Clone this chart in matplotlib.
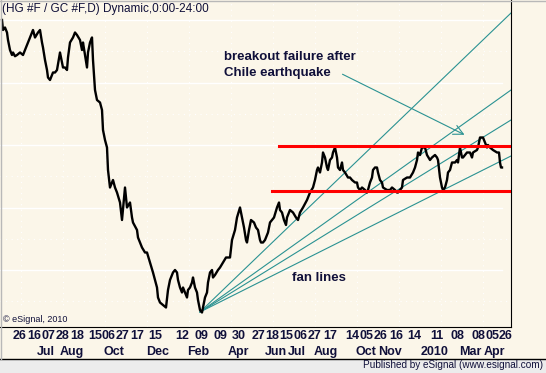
import matplotlib
matplotlib.use("Agg")
import matplotlib.pyplot as plt
from matplotlib.lines import Line2D
from matplotlib.patches import Rectangle

# HG/GC ratio (x1000), daily bars indexed from the first bar on the chart
bar = [2, 3, 5, 7, 8, 10, 12, 13, 15, 17, 20, 23, 25, 28, 30, 32, 33, 35, 38, 40,
       42, 43, 45, 47, 48, 50, 53, 55, 57, 60, 62, 63, 65, 67, 68, 70, 73, 75, 77, 80,
       82, 83, 85, 87, 88, 90, 92, 93, 95, 97, 100, 102, 103, 105, 107, 108, 110, 113, 115, 117,
       120, 122, 125, 127, 130, 132, 133, 135, 137, 138, 140, 142, 145, 147, 150, 153, 155, 157, 158, 160,
       163, 166, 168, 170, 173, 175, 177, 178, 180, 182, 183, 185, 187, 188, 190, 192, 193, 195, 197, 198,
       200, 202, 203, 205, 207, 208, 210, 212, 213, 215, 218, 220, 223, 226, 228, 230, 232, 235, 237, 240,
       242, 244, 246, 247, 249, 251, 254, 256, 258, 260, 261, 263, 265, 268, 270, 272, 274, 277, 279, 280,
       282, 284, 286, 287, 290, 293, 296, 298, 300, 303, 307, 310, 313, 315, 317, 318, 320, 322, 323, 325,
       327, 328, 330, 332, 333, 335, 337, 338, 340, 342, 343, 345, 348, 350, 352, 355, 357, 358, 360, 362,
       365, 367, 368, 370, 372, 373, 375, 377, 378, 380, 382, 383, 385, 387, 390, 392, 395, 397, 398, 400,
       402, 403, 407, 410, 413, 415, 417, 418, 420, 422, 425, 427, 430, 432, 435, 437, 438, 440, 442, 443,
       445, 447, 448, 450, 452, 453, 455, 457, 458, 460, 462, 463, 467, 470, 472, 473, 477, 478, 480, 482,
       483, 485, 487, 488, 490, 493, 497, 499, 500, 501, 502]
ratio = [4.00, 3.92, 3.94, 3.90, 3.84, 3.76, 3.72, 3.74, 3.71, 3.72, 3.74, 3.72, 3.76, 3.82, 3.86, 3.90, 3.92, 3.86, 3.90, 3.92,
         3.82, 3.78, 3.68, 3.60, 3.54, 3.52, 3.58, 3.58, 3.60, 3.74, 3.66, 3.62, 3.62, 3.60, 3.70, 3.82, 3.86, 3.90, 3.88, 3.84,
         3.76, 3.82, 3.72, 3.62, 3.74, 3.82, 3.86, 3.68, 3.44, 3.36, 3.34, 3.28, 3.12, 3.04, 2.98, 2.80, 2.66, 2.72, 2.66, 2.62,
         2.54, 2.40, 2.66, 2.50, 2.54, 2.42, 2.38, 2.35, 2.32, 2.26, 2.22, 2.18, 2.14, 2.14, 2.06, 1.98, 1.92, 1.86, 1.78, 1.74,
         1.72, 1.70, 1.84, 1.92, 1.98, 2.00, 1.98, 1.92, 1.86, 1.82, 1.86, 1.82, 1.78, 1.84, 1.86, 1.90, 1.94, 1.86, 1.82, 1.76,
         1.68, 1.66, 1.70, 1.78, 1.82, 1.90, 1.98, 2.00, 1.94, 1.96, 2.00, 2.02, 2.06, 2.10, 2.10, 2.10, 2.24, 2.32, 2.42, 2.50,
         2.42, 2.34, 2.24, 2.22, 2.32, 2.40, 2.38, 2.34, 2.32, 2.24, 2.22, 2.22, 2.24, 2.30, 2.38, 2.40, 2.42, 2.50, 2.54, 2.48,
         2.46, 2.40, 2.36, 2.42, 2.48, 2.46, 2.42, 2.40, 2.46, 2.50, 2.56, 2.62, 2.66, 2.72, 2.80, 2.82, 2.78, 2.86, 2.94, 2.90,
         2.82, 2.80, 2.88, 2.90, 2.94, 2.98, 2.90, 2.82, 2.80, 2.86, 2.80, 2.78, 2.74, 2.74, 2.72, 2.70, 2.70, 2.66, 2.64, 2.66,
         2.64, 2.62, 2.64, 2.70, 2.74, 2.80, 2.82, 2.82, 2.78, 2.72, 2.70, 2.66, 2.65, 2.64, 2.64, 2.66, 2.64, 2.62, 2.62, 2.64,
         2.66, 2.72, 2.74, 2.74, 2.78, 2.82, 2.88, 2.94, 2.92, 2.98, 2.98, 2.92, 2.88, 2.90, 2.92, 2.90, 2.88, 2.74, 2.66, 2.64,
         2.66, 2.72, 2.78, 2.80, 2.86, 2.86, 2.86, 2.88, 2.86, 2.98, 2.90, 2.90, 2.94, 2.94, 2.90, 2.94, 2.96, 2.98, 3.06, 3.06,
         3.06, 3.02, 2.98, 3.00, 2.98, 2.96, 2.94, 2.94, 2.86, 2.82, 2.82]

# horizontal support / resistance (start bar, level)
resist_start, resist_level = 279, 2.99
support_start, support_level = 272, 2.63

# fan lines from the Feb 2009 low to the right edge
fan_origin = (200, 1.664)
fan_end_bar = 511
fan_end = [4.056, 3.44, 3.20, 2.912]

day_pos = [20, 34, 48, 62, 77, 95, 109, 123, 137, 155, 182, 201, 220, 239, 258, 272,
           286, 300, 315, 330, 352, 367, 381, 396, 414, 437, 457, 478, 492, 506]
day_labels = ["26", "16", "07", "28", "18", "15", "06", "27", "17", "15", "12", "09", "09", "30", "27", "18",
              "15", "06", "27", "17", "14", "05", "26", "16", "14", "11", "08", "08", "05", "26"]
month_pos = [46, 72, 114, 158, 198, 238, 276, 297, 326, 366, 390, 435, 470, 494]
month_labels = ["Jul", "Aug", "Oct", "Dec", "Feb", "Apr", "Jun", "Jul", "Aug", "Oct", "Nov",
                "2010", "Mar", "Apr"]

bg = "#FBF6E9"
teal = "#2A9292"
ink = "#10103A"
W, H = 546, 373

fig = plt.figure(figsize=(W / 100, H / 100), dpi=100, facecolor=bg)
ax = fig.add_axes([0, 46 / H, 511 / W, 327 / H])
ax.set_facecolor(bg)
ax.set_xlim(0, 511)
ax.set_ylim(1.544, 4.16)

# grid: solid white major lines plus faint dotted ones
for lv in [4.0, 3.5, 3.0, 2.5, 2.0]:
    ax.axhline(lv, xmin=0, xmax=502 / 511, color="white", lw=1.0, zorder=0)
for lv in [3.75, 3.25, 2.75, 2.25, 1.75]:
    ax.axhline(lv, color="white", lw=0.8, ls=(0, (1, 4)), zorder=0)
for xv in range(21, 511, 42):
    ax.axvline(xv, color="white", lw=0.8, ls=(0, (1, 4)), zorder=0)

ax.plot(bar, ratio, color="black", lw=1.7, zorder=3)

ax.plot([resist_start, 511], [resist_level] * 2, color="#FF0000", lw=2.2, zorder=4)
ax.plot([support_start, 511], [support_level] * 2, color="#FF0000", lw=2.2, zorder=4)

for ye in fan_end:
    ax.plot([fan_origin[0], fan_end_bar], [fan_origin[1], ye], color=teal, lw=0.8, zorder=2)

ax.text(224, 3.704, "breakout failure after", fontsize=9.5, fontweight="bold",
        family="Liberation Sans", color=ink, va="center")
ax.text(224, 3.576, "Chile earthquake", fontsize=9.5, fontweight="bold",
        family="Liberation Sans", color=ink, va="center")
ax.annotate("", xy=(467, 3.072), xytext=(340, 3.576),
            arrowprops=dict(arrowstyle="->,head_length=0.7,head_width=0.35", color=teal, lw=0.8))
ax.text(292, 1.936, "fan lines", fontsize=9.5, fontweight="bold",
        family="Liberation Sans", color=ink, va="center")

ax.text(2 / 511, 1 - 9 / 327, "(HG #F / GC #F,D) Dynamic,0:00-24:00", transform=ax.transAxes,
        fontsize=8.5, family="Liberation Sans", color=ink, va="center")
ax.text(3 / 511, 7 / 327, "\u00a9 eSignal, 2010", transform=ax.transAxes,
        fontsize=6.5, family="Liberation Sans", color=ink, va="center")

ax.xaxis.remove_overlapping_locs = False
ax.set_xticks(day_pos, day_labels)
ax.set_xticks(month_pos, month_labels, minor=True)
ax.tick_params(axis="x", which="major", length=0, pad=2.2, labelsize=9, labelcolor=ink)
ax.tick_params(axis="x", which="minor", length=0, pad=13.5, labelsize=9, labelcolor=ink)
for lab in ax.get_xticklabels(which="both"):
    lab.set_fontweight("bold")
    lab.set_family("Liberation Sans")
ax.set_yticks([])

for side in ["top", "left"]:
    ax.spines[side].set_visible(False)
ax.spines["bottom"].set_color("black")
ax.spines["right"].set_color("black")

# bottom band and outer frame
fig.patches.append(Rectangle((0, 0), 1, 14 / H, transform=fig.transFigure,
                             facecolor="#ECECEC", edgecolor="none"))
fig.lines.append(Line2D([0, 1], [14 / H, 14 / H], transform=fig.transFigure, color="black", lw=1))
fig.lines.append(Line2D([0, 1], [1 - 0.5 / H] * 2, transform=fig.transFigure, color="#B8B8B8", lw=1))
fig.lines.append(Line2D([0.5 / W] * 2, [14 / H, 1], transform=fig.transFigure, color="#B8B8B8", lw=1))
fig.text(543 / W, 7.5 / H, "Published by eSignal (www.esignal.com)", fontsize=7.2,
         family="Liberation Sans", color=ink, ha="right", va="center")

fig.savefig("out.png", dpi=100, facecolor=bg)
